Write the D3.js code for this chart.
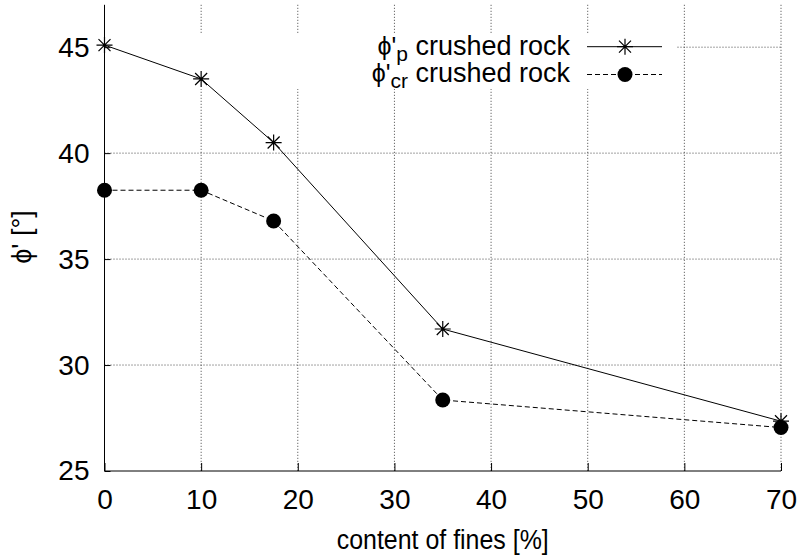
<!DOCTYPE html>
<html>
<head>
<meta charset="utf-8">
<script src="https://cdn.jsdelivr.net/npm/d3@7"></script>
<style>
  html, body { margin: 0; padding: 0; background: #fff; }
  svg { display: block; }
  text { font-family: "Liberation Sans", Arial, Helvetica, sans-serif; fill: #000; }
</style>
</head>
<body>
<svg id="chart" width="798" height="557"></svg>
<script>
// ---- data ----
const fines = [0, 10, 17.5, 35, 70];
const phiPeak = [45.1, 43.5, 40.5, 31.7, 27.35];
const phiCrit = [38.25, 38.25, 36.8, 28.35, 27.05];
const xTicks = [0, 10, 20, 30, 40, 50, 60, 70];
const yTicks = [25, 30, 35, 40, 45];
const seriesNames = ["p", "cr"];
const xTitle = "content of fines [%]";
const yTitle = "ϕ' [°]";

const svg = d3.select("#chart");
const FS = 27;

const x = d3.scaleLinear().domain([0, 70]).range([104.5, 781]);
const y = d3.scaleLinear().domain([25, 47]).range([471, 4.8]);

// grid
const grid = svg.append("g").attr("stroke", "#444").attr("stroke-width", 1)
  .attr("stroke-dasharray", "1,2").attr("fill", "none");
xTicks.filter(d => d > 0).forEach(d => {
  grid.append("line").attr("x1", x(d)).attr("x2", x(d)).attr("y1", y(47)).attr("y2", y(25));
});
yTicks.filter(d => d > 25).forEach(d => {
  grid.append("line").attr("x1", x(0)).attr("x2", x(70)).attr("y1", y(d)).attr("y2", y(d));
});

// opaque key background
svg.append("rect").attr("x", 106).attr("y", 34).attr("width", 571).attr("height", 55).attr("fill", "#fff");

// axes
const xAxis = d3.axisBottom(x).tickValues(xTicks).tickSize(-8).tickPadding(18).tickFormat(d3.format("d"));
const gx = svg.append("g").attr("transform", `translate(0,${y(25)})`).call(xAxis);
gx.select(".domain").attr("d", `M${x(0)},0H${x(70)}`).attr("stroke", "#000");
gx.selectAll("text").attr("font-size", 28).attr("font-family", null);

const yAxis = d3.axisLeft(y).tickValues(yTicks).tickSize(-6).tickPadding(15).tickFormat(d3.format("d"));
const gy = svg.append("g").attr("transform", `translate(${x(0)},0)`).call(yAxis);
gy.select(".domain").attr("d", `M0,${y(47)}V${y(25)}`).attr("stroke", "#000");
gy.selectAll("text").attr("font-size", 28).attr("font-family", null);
gx.attr("font-family", null); gy.attr("font-family", null);

// lines
const line = d3.line().x(d => x(d[0])).y(d => y(d[1]));
const peakPts = fines.map((f, i) => [f, phiPeak[i]]);
const critPts = fines.map((f, i) => [f, phiCrit[i]]);

svg.append("path").datum(critPts).attr("d", line).attr("fill", "none")
  .attr("stroke", "#000").attr("stroke-width", 1).attr("stroke-dasharray", "5,3");
svg.append("path").datum(peakPts).attr("d", line).attr("fill", "none")
  .attr("stroke", "#000").attr("stroke-width", 1);

function star(g, cx, cy) {
  const r = 8, q = 6;
  g.append("path")
    .attr("d", `M${cx - r},${cy}H${cx + r}M${cx},${cy - r}V${cy + r}M${cx - q},${cy - q}L${cx + q},${cy + q}M${cx - q},${cy + q}L${cx + q},${cy - q}`)
    .attr("stroke", "#000").attr("stroke-width", 1.2).attr("fill", "none");
}
function dot(g, cx, cy) {
  g.append("circle").attr("cx", cx).attr("cy", cy).attr("r", 7.5).attr("fill", "#000");
}

const marks = svg.append("g");
critPts.forEach(p => dot(marks, x(p[0]), y(p[1])));
peakPts.forEach(p => star(marks, x(p[0]), y(p[1])));

// legend
const legRows = [{ sub: seriesNames[0], base: 55, ly: 46.7, kind: "star" },
                 { sub: seriesNames[1], base: 81.7, ly: 74.5, kind: "dot" }];
legRows.forEach(r => {
  const t = svg.append("text").attr("x", 570).attr("y", r.base).attr("text-anchor", "end").attr("font-size", FS);
  t.append("tspan").attr("font-size", 25).text("ϕ'");
  t.append("tspan").attr("font-size", 21).attr("dy", 6).text(r.sub);
  t.append("tspan").attr("dy", -6).text(" crushed rock");
  const l = svg.append("line").attr("x1", 587).attr("x2", 662).attr("y1", r.ly).attr("y2", r.ly)
    .attr("stroke", "#000").attr("stroke-width", 1);
  if (r.kind === "dot") { l.attr("stroke-dasharray", "5,3"); dot(svg, 625, r.ly); }
  else star(svg, 625, r.ly);
});

// titles
svg.append("text").attr("x", (x(0) + x(70)) / 2).attr("y", 549).attr("text-anchor", "middle")
  .attr("font-size", FS).attr("textLength", 212).attr("lengthAdjust", "spacingAndGlyphs").text(xTitle);
svg.append("text").attr("transform", "translate(31,237) rotate(-90)").attr("text-anchor", "middle")
  .attr("font-size", FS).text(yTitle);
</script>
</body>
</html>
